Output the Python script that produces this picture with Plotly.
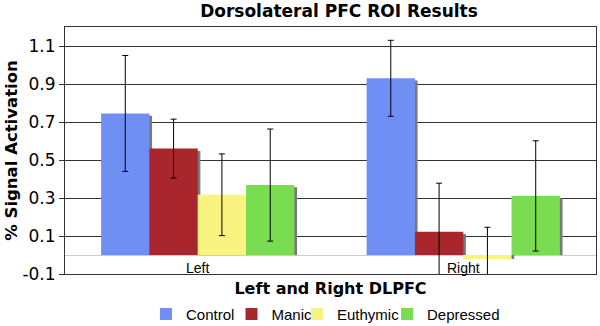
import plotly.graph_objects as go

categories = ["Left", "Right"]
series_names = ["Control", "Manic", "Euthymic", "Depressed"]
control = [0.745, 0.93]
manic = [0.56, 0.123]
euthymic = [0.317, -0.021]
depressed = [0.368, 0.311]
control_err = [0.305, 0.20]
manic_err = [0.155, 0.255]
euthymic_err = [0.215, 0.167]
depressed_err = [0.295, 0.29]
y_ticks = [-0.1, 0.1, 0.3, 0.5, 0.7, 0.9, 1.1]

colors = ["#6f8ff5", "#a8262c", "#f8f47f", "#7adc50"]
values = [control, manic, euthymic, depressed]
errors = [control_err, manic_err, euthymic_err, depressed_err]

bar_w = 0.182
n = len(series_names)
offsets = [-n * bar_w / 2 + i * bar_w for i in range(n)]
legend_ids = ["legend", "legend2", "legend3", "legend4"]
legend_x = [0.1525, 0.3136, 0.4369, 0.6064]

fig = go.Figure()
# soft drop shadows
for name, vals, off in zip(series_names, values, offsets):
    fig.add_trace(go.Bar(
        x=categories, y=[v - 0.012 if v > 0 else v for v in vals],
        width=bar_w, offset=off + 0.01, showlegend=False, hoverinfo="skip",
        marker=dict(color="#7a7a7a", line=dict(width=0)),
    ))
for name, vals, errs, col, off, lid in zip(series_names, values, errors, colors, offsets, legend_ids):
    fig.add_trace(go.Bar(
        x=categories, y=vals, name=name, width=bar_w, offset=off, legend=lid,
        marker=dict(color=col, line=dict(width=0)),
        error_y=dict(type="data", array=errs, visible=True,
                     color="black", thickness=1, width=3),
    ))

for c in categories:
    fig.add_annotation(x=c, y=-0.068, xref="x", yref="y", text=c,
                       showarrow=False, yanchor="middle",
                       font=dict(family="Liberation Sans, Arial", size=14, color="black"))

legend_style = dict(orientation="h", xanchor="left", y=-0.163, yanchor="middle",
                    font=dict(family="Liberation Sans, Arial", size=15, color="black"),
                    itemwidth=30, bgcolor="rgba(0,0,0,0)")
legend_layout = {lid: dict(x=lx, **legend_style) for lid, lx in zip(legend_ids, legend_x)}

fig.update_layout(
    width=600, height=326,
    margin=dict(l=65, r=4, t=27, b=52, autoexpand=False),
    paper_bgcolor="white", plot_bgcolor="white",
    barmode="overlay",
    title=dict(text="<b>Dorsolateral PFC ROI Results</b>", x=0.565, xanchor="center",
               y=0.985, yanchor="top",
               font=dict(family="DejaVu Sans", size=17, color="black")),
    xaxis=dict(showticklabels=False, ticks="", showline=True, linecolor="#333",
               linewidth=1, mirror=True, showgrid=False, automargin=False,
               title=dict(text="<b>Left and Right DLPFC</b>", standoff=8,
                          font=dict(family="DejaVu Sans", size=16, color="black"))),
    yaxis=dict(range=[-0.1, 1.2], tickvals=y_ticks, ticktext=[f"{v:.1f}" for v in y_ticks],
               showline=True, linecolor="#333", linewidth=1, mirror=True,
               showgrid=True, gridcolor="#333", gridwidth=1, automargin=False,
               zeroline=True, zerolinecolor="#ccc", zerolinewidth=1,
               ticks="outside", ticklen=5, tickcolor="#333",
               tickfont=dict(family="DejaVu Sans", size=17, color="black"),
               title=dict(text="<b>% Signal Activation</b>", standoff=0,
                          font=dict(family="DejaVu Sans", size=16.5, color="black"))),
    **legend_layout,
)

fig.write_html("out.html", config={"displayModeBar": False},
               post_script="document.body.style.margin='0';")
